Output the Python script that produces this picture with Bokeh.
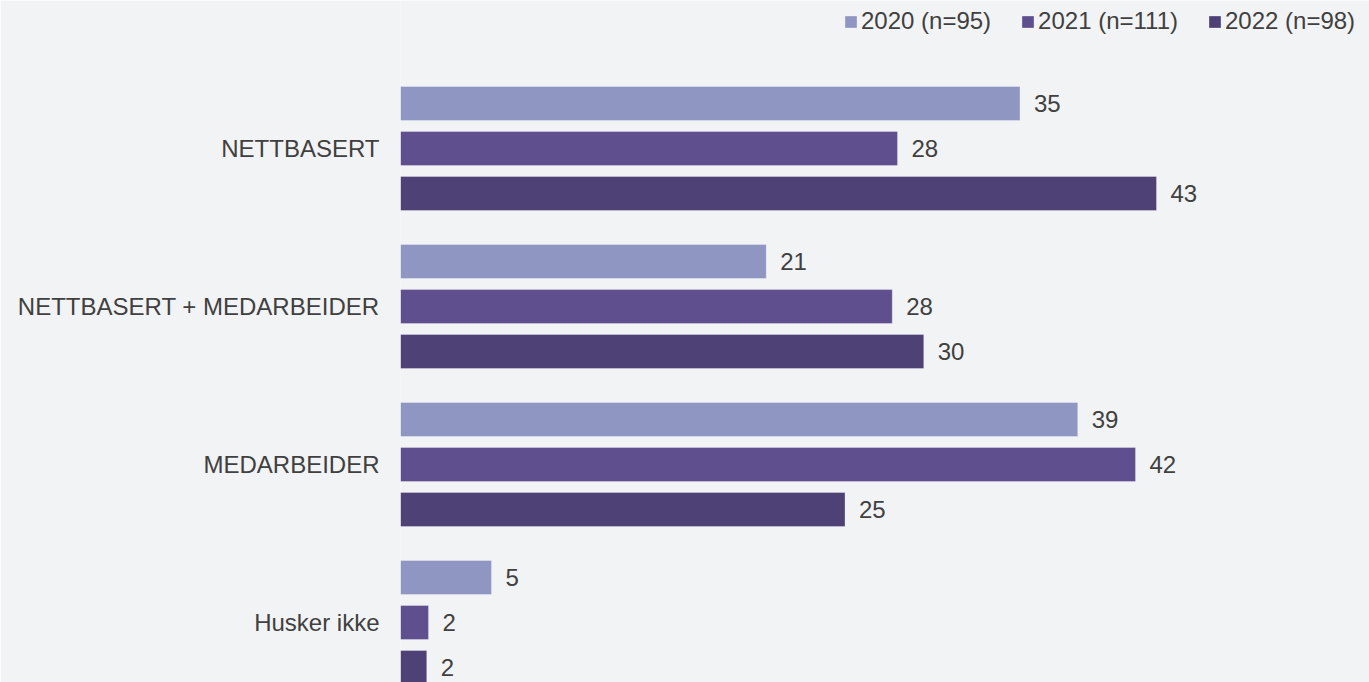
from bokeh.plotting import figure
from bokeh.models import Range1d, FixedTicker, ColumnDataSource, Legend, LegendItem
from bokeh.core.properties import value
from bokeh.embed import file_html
from bokeh.resources import INLINE

categories = ["NETTBASERT", "NETTBASERT + MEDARBEIDER", "MEDARBEIDER", "Husker ikke"]
series_names = ["2020 (n=95)", "2021 (n=111)", "2022 (n=98)"]
values_2020 = [35.4, 20.9, 38.7, 5.2]
values_2021 = [28.4, 28.1, 42.0, 1.6]
values_2022 = [43.2, 29.9, 25.4, 1.5]
colors = ["#9096C2", "#5F4F8E", "#4E4175"]

FONT = "Liberation Sans"
TEXT_COLOR = "#404040"
BG = "#F2F3F5"

W, H = 1369, 682
LEFT = 400
PX_PER_UNIT = 17.5
GROUP_PX = 158.0
first_center = 148.0
offsets = [-45.0 / GROUP_PX, 0.0, 45.0 / GROUP_PX]
bar_h = 34.0 / GROUP_PX

p = figure(width=W, height=H, output_backend="svg", toolbar_location=None,
           x_axis_location=None, y_axis_location="left",
           min_border_left=LEFT, min_border_right=0, min_border_top=0, min_border_bottom=0,
           x_range=Range1d(0, (W - LEFT) / PX_PER_UNIT),
           y_range=Range1d((H - first_center) / GROUP_PX, -first_center / GROUP_PX))
p.background_fill_color = BG
p.border_fill_color = BG
p.outline_line_color = None
p.xgrid.visible = False
p.ygrid.visible = False

all_vals = [values_2020, values_2021, values_2022]
renderers = []
for s, (vals, col) in enumerate(zip(all_vals, colors)):
    ys = [g + offsets[s] for g in range(len(categories))]
    src = ColumnDataSource(dict(y=ys, right=vals, lab=[str(int(round(v))) for v in vals]))
    r = p.hbar(y="y", left=0, right="right", height=bar_h, source=src,
               fill_color=col, line_color="white", line_alpha=0.3, line_width=1)
    renderers.append(r)
    p.text(x="right", y="y", text="lab", source=src, x_offset=14,
           text_align="left", text_baseline="middle",
           text_font=value(FONT), text_font_size="24px", text_color=TEXT_COLOR)

ax = p.yaxis[0]
ax.ticker = FixedTicker(ticks=list(range(len(categories))))
ax.major_label_overrides = {i: c for i, c in enumerate(categories)}
ax.axis_line_color = None
ax.major_tick_line_color = None
ax.minor_tick_line_color = None
ax.major_tick_out = 0
ax.major_tick_in = 0
ax.major_label_standoff = 21
ax.major_label_text_font = FONT
ax.major_label_text_font_size = "24px"
ax.major_label_text_color = TEXT_COLOR

legend = Legend(items=[LegendItem(label=n, renderers=[r]) for n, r in zip(series_names, renderers)],
                orientation="horizontal", location=(443, 647),
                margin=0, padding=0, spacing=29, label_standoff=3,
                glyph_width=15, glyph_height=15,
                label_text_font=FONT, label_text_font_size="24px", label_text_color=TEXT_COLOR,
                background_fill_alpha=0, border_line_color=None)
p.add_layout(legend)

open("out.html", "w").write(file_html(p, INLINE))
